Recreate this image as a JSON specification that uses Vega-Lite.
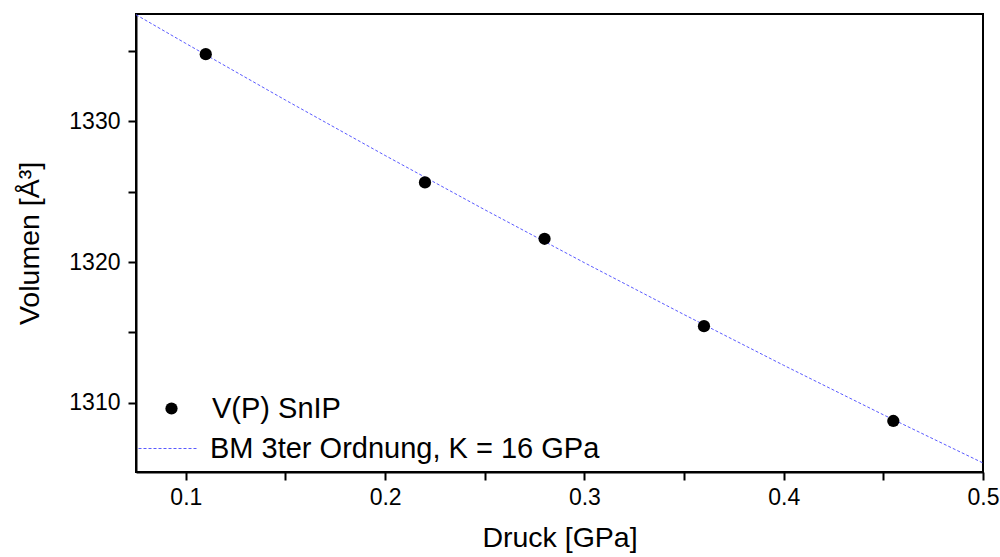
{
  "$schema": "https://vega.github.io/schema/vega-lite/v6.json",
  "width": 847,
  "height": 458,
  "autosize": "none",
  "padding": {"left": 136, "top": 14, "right": 17, "bottom": 85},
  "background": "white",
  "config": {
    "font": "Liberation Sans",
    "view": {"stroke": "black", "strokeWidth": 2},
    "axis": {"grid": false, "domainColor": "black", "domainWidth": 2, "ticks": true, "tickColor": "black", "tickWidth": 2, "labelColor": "black", "titleColor": "black", "labelFontSize": 23, "titleFontSize": 28.5, "titleFontWeight": "normal", "labelFont": "Liberation Sans", "titleFont": "Liberation Sans"},
    "legend": {"padding": 0, "labelFontSize": 29, "labelColor": "black", "labelFont": "Liberation Sans", "labelLimit": 0}
  },
  "datasets": {
    "punkte": [
      {"p": 0.11, "v": 1334.75},
      {"p": 0.22, "v": 1325.65},
      {"p": 0.28, "v": 1321.65},
      {"p": 0.36, "v": 1315.45},
      {"p": 0.455, "v": 1308.72}
    ],
    "fit": [
      {"p": 0.075, "v": 1337.55},
      {"p": 0.1, "v": 1335.51},
      {"p": 0.15, "v": 1331.49},
      {"p": 0.2, "v": 1327.56},
      {"p": 0.25, "v": 1323.71},
      {"p": 0.3, "v": 1319.95},
      {"p": 0.35, "v": 1316.27},
      {"p": 0.4, "v": 1312.67},
      {"p": 0.45, "v": 1309.16},
      {"p": 0.5, "v": 1305.74}
    ]
  },
  "layer": [
    {
      "data": {"name": "fit"},
      "mark": {"type": "line", "color": "#5a5aff", "strokeWidth": 1, "clip": true},
      "encoding": {
        "x": {
          "field": "p", "type": "quantitative",
          "scale": {"domain": [0.075, 0.5], "nice": false, "zero": false},
          "axis": {
            "title": "Druck [GPa]",
            "values": [0.1, 0.15, 0.2, 0.25, 0.3, 0.35, 0.4, 0.45, 0.5],
            "labelExpr": "abs(datum.value*10 - round(datum.value*10)) < 0.001 ? format(datum.value, '.1f') : ''",
            "tickSize": 8,
            "labelPadding": 6,
            "titlePadding": 14,
            "labelFlush": false,
            "labelOverlap": false
          }
        },
        "y": {
          "field": "v", "type": "quantitative",
          "scale": {"domain": [1305.1, 1337.6], "nice": false, "zero": false},
          "axis": {
            "title": "Volumen [Å³]",
            "values": [1310, 1315, 1320, 1325, 1330, 1335],
            "labelExpr": "datum.value % 10 == 0 ? datum.value : ''",
            "tickSize": 8,
            "labelPadding": 8,
            "titlePadding": 24,
            "labelFlush": false,
            "labelOverlap": false
          }
        },
        "strokeDash": {
          "datum": "BM 3ter Ordnung, K = 16 GPa",
          "scale": {"range": [[3, 2]]},
          "legend": {"title": null, "orient": "none", "legendX": 2, "legendY": 404, "symbolType": "stroke", "symbolSize": 3600, "symbolStrokeColor": "#5a5aff", "symbolStrokeWidth": 1, "labelOffset": 11, "labelLimit": 0}
        }
      }
    },
    {
      "data": {"name": "punkte"},
      "mark": {"type": "point", "filled": true, "color": "black", "opacity": 1, "size": 150},
      "encoding": {
        "x": {"field": "p", "type": "quantitative"},
        "y": {"field": "v", "type": "quantitative"},
        "shape": {
          "datum": "V(P) SnIP",
          "scale": {"range": ["circle"]},
          "legend": {"title": null, "orient": "none", "legendX": 21, "legendY": 380, "symbolSize": 150, "symbolFillColor": "black", "symbolStrokeColor": "black", "labelOffset": 26, "labelLimit": 0}
        }
      }
    }
  ]
}
